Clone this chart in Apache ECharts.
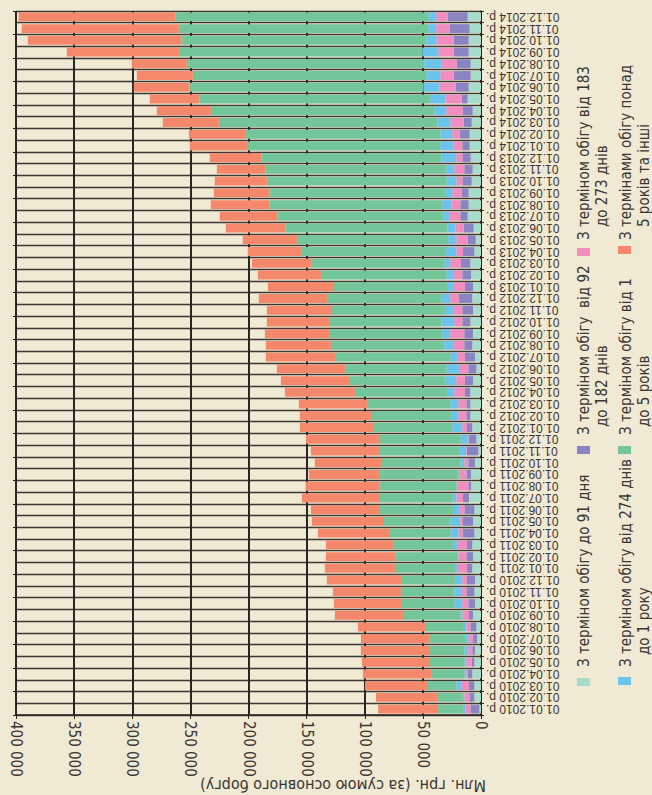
<!DOCTYPE html>
<html>
<head>
<meta charset="utf-8">
<title></title>
<script src="https://cdn.jsdelivr.net/npm/echarts@6/dist/echarts.min.js"></script>
<style>
    html, body { margin: 0; padding: 0; background: #f0e9d3; }
    #main { width: 652px; height: 795px; }
</style>
</head>
<body>
<div id="main"></div>
<script type="text/javascript">
    // категорії (перша знизу)
    var months = [
        '01.01.2010 р.', '01.02.2010 р.', '01.03.2010 р.', '01.04.2010 р.', '01.05.2010 р.', '01.06.2010 р.',
        '01.07.2010 р.', '01.08.2010 р.', '01.09.2010 р.', '01.10.2010 р.', '01.11.2010 р.', '01.12.2010 р.',
        '01.01.2011 р.', '01.02.2011 р.', '01.03.2011 р.', '01.04.2011 р.', '01.05.2011 р.', '01.06.2011 р.',
        '01.07.2011 р.', '01.08.2011 р.', '01.09.2011 р.', '01.10.2011 р.', '01.11.2011 р.', '01.12.2011 р.',
        '01.01.2012 р.', '01.02.2012 р.', '01.03.2012 р.', '01.04.2012 р.', '01.05.2012 р.', '01.06.2012 р.',
        '01.07.2012 р.', '01.08.2012 р.', '01.09.2012 р.', '01.10.2012 р.', '01.11.2012 р.', '01.12.2012 р.',
        '01.01.2013 р.', '01.02.2013 р.', '01.03.2013 р.', '01.04.2013 р.', '01.05.2013 р.', '01.06.2013 р.',
        '01.07.2013 р.', '01.08.2013 р.', '01.09.2013 р.', '01.10.2013 р.', '01.11.2013 р.', '01.12.2013 р.',
        '01.01.2014 р.', '01.02.2014 р.', '01.03.2014 р.', '01.04.2014 р.', '01.05.2014 р.', '01.06.2014 р.',
        '01.07.2014 р.', '01.08.2014 р.', '01.09.2014 р.', '01.10.2014 р.', '01.11.2014 р.', '01.12.2014 р.'
    ];

    // значення в тис. млн грн
    var upTo91 = [
        1.4, 5.7, 5.7, 7.5, 5.7, 5.2, 3.4, 4.0, 6.9, 5.2, 5.7, 5.2,
        7.5, 6.9, 7.5, 5.7, 6.9, 5.7, 10.3, 8.6, 8.6, 5.2, 2.3, 4.0,
        7.5, 9.2, 9.2, 9.2, 6.9, 4.0, 5.2, 7.5, 6.9, 9.2, 6.9, 7.5,
        6.9, 8.6, 9.2, 5.7, 4.6, 6.3, 11.5, 10.6, 10.6, 8.0, 7.2, 8.9,
        9.8, 9.8, 8.0, 7.2, 11.5, 10.6, 8.9, 8.9, 10.6, 10.6, 9.8, 11.5
    ];
    var from92to182 = [
        7.7, 4.3, 4.6, 4.0, 2.3, 2.3, 3.4, 5.2, 3.4, 5.7, 6.9, 6.9,
        4.6, 5.7, 4.6, 10.3, 8.6, 8.6, 5.2, 2.3, 4.0, 5.7, 9.8, 6.3,
        4.6, 3.4, 3.4, 4.6, 6.9, 6.9, 8.6, 6.9, 7.5, 6.9, 9.2, 11.5,
        6.9, 7.5, 8.0, 9.8, 6.9, 8.6, 6.3, 7.2, 6.0, 8.0, 7.2, 7.2,
        6.3, 8.6, 6.9, 8.6, 5.2, 11.2, 14.6, 12.1, 12.9, 12.9, 17.2, 17.2
    ];
    var from183to273 = [
        4.3, 4.3, 6.9, 1.1, 4.6, 3.4, 4.0, 3.4, 5.7, 5.2, 4.6, 4.0,
        8.6, 6.9, 8.6, 3.4, 2.3, 4.6, 5.7, 9.8, 6.3, 3.4, 0.6, 0.6,
        4.0, 6.9, 6.9, 9.2, 7.5, 8.0, 6.9, 9.8, 12.1, 6.9, 8.0, 7.5,
        10.3, 8.0, 9.2, 5.7, 9.8, 6.9, 9.2, 7.5, 8.0, 5.2, 8.6, 5.2,
        7.5, 6.3, 11.5, 14.1, 13.8, 13.8, 11.5, 12.9, 13.2, 14.9, 11.5, 9.8
    ];
    var from274to1y = [
        1.4, 1.4, 4.0, 1.7, 1.7, 3.4, 2.9, 2.9, 1.7, 6.9, 5.7, 6.3,
        1.7, 1.1, 3.4, 6.9, 8.6, 5.2, 3.4, 0.3, 0.5, 3.4, 6.3, 6.9,
        8.6, 6.3, 6.9, 6.3, 9.8, 10.9, 5.7, 7.5, 6.9, 10.9, 6.9, 8.0,
        5.2, 5.7, 5.2, 9.8, 6.9, 6.9, 5.2, 8.0, 5.7, 8.6, 6.9, 12.6,
        11.5, 10.3, 10.9, 10.3, 13.2, 13.8, 12.1, 14.9, 13.8, 8.6, 6.9, 6.9
    ];
    var from1to5y = [
        22.1, 22.1, 24.4, 28.5, 29.6, 29.6, 30.8, 31.8, 49.4, 45.0, 46.0, 46.5,
        51.6, 53.4, 50.8, 52.0, 57.1, 62.8, 62.3, 66.2, 67.5, 67.5, 68.8, 70.0,
        67.4, 68.9, 70.9, 79.2, 81.7, 87.3, 99.3, 97.4, 97.4, 96.1, 97.2, 97.2,
        97.2, 107.9, 113.9, 123.1, 130.2, 139.4, 142.8, 148.6, 151.6, 154.4, 155.4, 154.9,
        166.3, 167.3, 188.2, 192.2, 198.4, 201.3, 200.8, 204.3, 209.4, 210.6, 214.5, 217.4
    ];
    var over5y = [
        51.6, 52.5, 54.2, 58.8, 58.5, 59.4, 58.8, 58.6, 58.6, 58.5, 58.5, 63.7,
        60.3, 59.4, 58.5, 62.0, 62.0, 59.4, 67.2, 63.7, 61.1, 57.7, 58.5, 62.8,
        63.7, 61.1, 59.4, 60.2, 59.3, 58.5, 59.4, 56.0, 55.1, 54.2, 56.0, 59.4,
        56.8, 54.2, 51.6, 46.5, 46.5, 51.4, 49.7, 50.5, 47.9, 44.8, 41.9, 44.5,
        49.1, 49.0, 48.2, 46.5, 42.8, 48.0, 48.2, 47.3, 96.4, 132.3, 135.2, 134.9
    ];

    var seriesNames = [
        'З терміном обігу до 91 дня',
        'З терміном обігу  від 92 до 182 днів',
        'З терміном обігу від 183 до 273 днів',
        'З терміном обігу від 274 днів до 1 року',
        'З терміном обігу від 1 до 5 років',
        'З термінами обігу понад 5 років та інші'
    ];
    // рядки легенди (перший і другий рядок підпису)
    var legendLines = [
        ['З терміном обігу до 91 дня'],
        ['З терміном обігу  від 92', 'до 182 днів'],
        ['З терміном обігу від 183', 'до 273 днів'],
        ['З терміном обігу від 274 днів', 'до 1 року'],
        ['З терміном обігу від 1', 'до 5 років'],
        ['З термінами обігу понад', '5 років та інші']
    ];
    var axisTitle = 'Млн. грн. (за сумою основного боргу)';

    var colors = ['#a7dccb', '#8a84c2', '#f28dbf', '#6ac4ee', '#72c69a', '#f5876a'];
    var seriesData = [upTo91, from92to182, from183to273, from274to1y, from1to5y, over5y];

    var narrow = "'Liberation Sans Narrow', 'Arial Narrow', 'DejaVu Sans Condensed', sans-serif";
    var textColor = '#3a3634';
    var lineColor = '#2b2624';

    var chart = echarts.init(document.getElementById('main'), null, {renderer: 'svg'});

    var series = seriesData.map(function (d, i) {
        return {
            name: seriesNames[i],
            type: 'bar',
            stack: 'total',
            data: d,
            barCategoryGap: '24%',
            itemStyle: {color: colors[i]}
        };
    });

    // легенда — повернутий текст
    var graphics = [];
    var legendPos = [
        {rx: 577, ry: 678, tx: 583.5, ty: 667, t2x: 602, t2y: 655},
        {rx: 577, ry: 446, tx: 583.5, ty: 435, t2x: 602, t2y: 427},
        {rx: 577, ry: 248, tx: 583.5, ty: 240, t2x: 602, t2y: 227},
        {rx: 618, ry: 677, tx: 625.5, ty: 667, t2x: 644, t2y: 655},
        {rx: 618, ry: 446, tx: 625.5, ty: 435, t2x: 644, t2y: 427},
        {rx: 618, ry: 246, tx: 625.5, ty: 240, t2x: 644, t2y: 227}
    ];
    legendPos.forEach(function (p, i) {
        graphics.push({
            type: 'rect',
            shape: {x: p.rx, y: p.ry, width: 13, height: 8},
            style: {fill: colors[i]}
        });
        var lines = legendLines[i];
        graphics.push({
            type: 'text', x: p.tx, y: p.ty, rotation: Math.PI / 2,
            style: {
                text: lines[0], fontSize: 15, fontFamily: narrow, fill: textColor,
                align: 'left', verticalAlign: 'middle', textAlign: 'left', textVerticalAlign: 'middle'
            }
        });
        if (lines[1]) {
            graphics.push({
                type: 'text', x: p.t2x, y: p.t2y, rotation: Math.PI / 2,
                style: {
                    text: lines[1], fontSize: 15, fontFamily: narrow, fill: textColor,
                    align: 'left', verticalAlign: 'middle', textAlign: 'left', textVerticalAlign: 'middle'
                }
            });
        }
    });
    // назва осі
    graphics.push({
        type: 'text', x: 486, y: 785, rotation: Math.PI,
        style: {
            text: axisTitle, fontSize: 16, fontFamily: narrow, fill: textColor,
            align: 'left', verticalAlign: 'middle', textAlign: 'left', textVerticalAlign: 'middle'
        }
    });

    var option = {
        backgroundColor: '#f0e9d3',
        animation: false,
        grid: {left: 16, right: 171, top: 11, bottom: 80},
        xAxis: {
            type: 'value',
            inverse: true,
            min: 0,
            max: 400,
            interval: 50,
            axisLine: {show: true, lineStyle: {color: lineColor, width: 1.5}},
            axisTick: {show: true, length: 4, lineStyle: {color: lineColor}},
            axisLabel: {
                rotate: -90,
                margin: 6,
                fontSize: 15,
                fontFamily: narrow,
                color: textColor,
                padding: [0, 0, 9, 0],
                formatter: function (v) { return v === 0 ? '0' : v + ' 000'; }
            },
            splitLine: {show: true, lineStyle: {color: lineColor, width: 2}}
        },
        yAxis: [
            {
                type: 'category',
                data: months,
                position: 'right',
                axisLine: {show: true, lineStyle: {color: lineColor, width: 1.5}},
                axisTick: {show: true, length: 3, lineStyle: {color: lineColor}},
                axisLabel: {
                    rotate: 180,
                    margin: 5,
                    interval: 0,
                    fontSize: 12,
                    fontFamily: "'Liberation Sans', Arial, sans-serif",
                    color: textColor
                },
                splitLine: {show: true, lineStyle: {color: '#3d3733', width: 1.3}}
            },
            {
                type: 'category',
                data: months,
                position: 'left',
                axisLine: {show: false},
                axisTick: {show: true, length: 3, lineStyle: {color: lineColor}},
                axisLabel: {show: false},
                splitLine: {show: false}
            }
        ],
        graphic: graphics,
        series: series
    };

    chart.setOption(option);
</script>
</body>
</html>
